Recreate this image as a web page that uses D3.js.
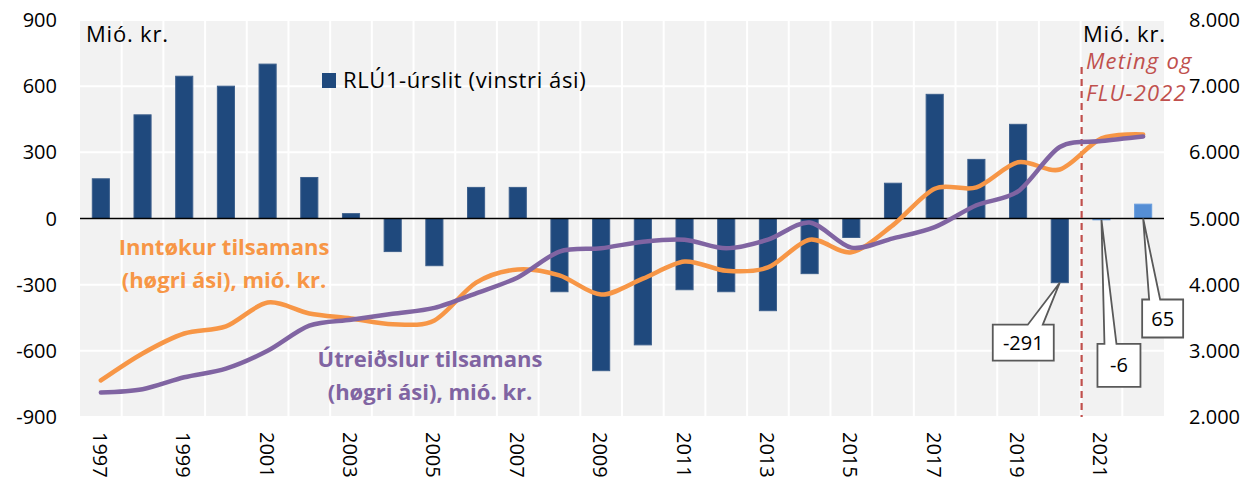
<!DOCTYPE html>
<html>
<head>
<meta charset="utf-8">
<script src="https://cdn.jsdelivr.net/npm/d3@7"></script>
<style>
  body { margin:0; background:#fff; }
  svg text { font-family: "Open Sans", Lato, sans-serif; }
</style>
</head>
<body>
<div id="chart"></div>
<script>
var years = [1997,1998,1999,2000,2001,2002,2003,2004,2005,2006,2007,2008,2009,
             2010,2011,2012,2013,2014,2015,2016,2017,2018,2019,2020,2021,2022];
var forecastYears = [2021,2022];

// RLÚ1-úrslit, left axis
var resultValues = [180,470,645,600,700,186,22,-150,-214,141,141,-332,-690,
                    -573,-323,-332,-418,-250,-86,160,563,268,427,-291,-6,65];
// Inntøkur tilsamans, right axis
var incomeValues = [2552,2960,3262,3370,3730,3565,3490,3400,3460,4030,4230,4140,3850,
                    4090,4350,4210,4260,4680,4490,4900,5450,5470,5850,5740,6210,6270];
// Útreiðslur tilsamans, right axis
var expenseValues = [2370,2420,2600,2730,3000,3380,3470,3560,3650,3870,4110,4500,4550,
                     4650,4680,4550,4680,4940,4560,4700,4870,5200,5410,6080,6170,6240];

var leftTicks = [-900,-600,-300,0,300,600,900];
var rightTicks = [2000,3000,4000,5000,6000,7000,8000];
var labelYears = [1997,1999,2001,2003,2005,2007,2009,2011,2013,2015,2017,2019,2021];
var calloutYears = [2020,2021,2022];

var W = 1254, H = 481;
var m = {top:20, right:90, bottom:64, left:80};

var svg = d3.select("#chart").append("svg")
    .attr("width", W).attr("height", H);

var x = d3.scaleBand().domain(years).range([m.left, W - m.right]).padding(0);
var yL = d3.scaleLinear().domain([-900, 900]).range([H - m.bottom, m.top]);
var yR = d3.scaleLinear().domain([2000, 8000]).range([H - m.bottom, m.top]);
var bw = x.bandwidth();

var isl = d3.formatLocale({decimal:",", thousands:".", grouping:[3], currency:["",""]});
var fmtR = isl.format(",");

// plot background + grid
svg.append("rect")
    .attr("x", m.left).attr("y", m.top)
    .attr("width", W - m.left - m.right).attr("height", H - m.top - m.bottom)
    .style("fill", "#f2f2f2");

var grid = svg.append("g");
grid.selectAll("line.h").data(leftTicks).enter().append("line")
    .attr("x1", m.left).attr("x2", W - m.right)
    .attr("y1", function(d){return yL(d);}).attr("y2", function(d){return yL(d);})
    .style("stroke", "#fff").style("stroke-width", 2);
grid.selectAll("line.v").data(years.slice(1)).enter().append("line")
    .attr("x1", function(d){return x(d);}).attr("x2", function(d){return x(d);})
    .attr("y1", m.top).attr("y2", H - m.bottom)
    .style("stroke", "#fff").style("stroke-width", 2);

// bars
svg.append("g").selectAll("rect").data(years).enter().append("rect")
    .attr("x", function(d){return x(d) + bw*0.295;})
    .attr("width", bw*0.41)
    .attr("y", function(d,i){return yL(Math.max(0, resultValues[i]));})
    .attr("height", function(d,i){return Math.abs(yL(resultValues[i]) - yL(0));})
    .style("fill", function(d){return forecastYears.indexOf(d) >= 0 ? "#558ed5" : "#1f497d";})
    .style("stroke", function(d){return forecastYears.indexOf(d) >= 0 ? "#6a9ede" : "#3c5f8c";})
    .style("stroke-width", 1);

// zero line
svg.append("line")
    .attr("x1", m.left).attr("x2", W - m.right)
    .attr("y1", yL(0)).attr("y2", yL(0))
    .style("stroke", "#000").style("stroke-width", 1.6);

// forecast divider
svg.append("line")
    .attr("x1", x(2021) + 1).attr("x2", x(2021) + 1)
    .attr("y1", 67).attr("y2", H - m.bottom)
    .style("stroke", "#c0504d").style("stroke-width", 2.2)
    .style("stroke-dasharray", "7,5");

// lines
var line = function(vals){
    return d3.line()
        .x(function(d){return x(d) + bw/2;})
        .y(function(d,i){return yR(vals[i]);})
        .curve(d3.curveCardinal.tension(0.1))(years);
};
svg.append("path").attr("d", line(incomeValues))
    .style("fill", "none").style("stroke", "#f79646").style("stroke-width", 4.5)
    .style("stroke-linecap", "round");
svg.append("path").attr("d", line(expenseValues))
    .style("fill", "none").style("stroke", "#8064a2").style("stroke-width", 4.5)
    .style("stroke-linecap", "round");

// axes labels
var axes = svg.append("g").style("font-size", "20px").style("fill", "#000");
axes.selectAll("text.l").data(leftTicks).enter().append("text")
    .attr("x", 57).attr("y", function(d){return yL(d);})
    .attr("dy", "0.35em").style("text-anchor", "end")
    .text(function(d){return d;});
axes.selectAll("text.r").data(rightTicks).enter().append("text")
    .attr("x", 1189).attr("y", function(d){return yR(d);})
    .attr("dy", "0.35em").style("text-anchor", "start")
    .text(function(d){return fmtR(d);});
axes.selectAll("text.x").data(labelYears).enter().append("text")
    .attr("transform", function(d){return "translate(" + (x(d) + bw/2 - 1) + "," + 432 + ") rotate(90)";})
    .attr("dy", "0.35em").style("text-anchor", "start")
    .text(function(d){return d;});

var unit = svg.append("g").style("font-size", "22px").style("letter-spacing", "0.8px");
unit.append("text").attr("x", 86).attr("y", 42).text("Mió. kr.");
unit.append("text").attr("x", 1083).attr("y", 42).text("Mió. kr.");

var meting = svg.append("g").style("font-size", "22px").style("font-style", "italic")
    .style("letter-spacing", "1.2px").style("fill", "#c0504d");
meting.append("text").attr("x", 1086).attr("y", 69).text("Meting og");
meting.append("text").attr("x", 1086).attr("y", 101).text("FLU-2022");

// legend
svg.append("rect").attr("x", 322).attr("y", 73).attr("width", 14).attr("height", 15)
    .style("fill", "#1f497d");
svg.append("text").attr("x", 343).attr("y", 88).style("font-size", "22px")
    .style("letter-spacing", "0.6px")
    .text("RLÚ1-úrslit (vinstri ási)");

// series annotations
var ann = function(lines, cx, y0, color){
    var g = svg.append("g").style("font-size", "22px").style("font-weight", "bold")
        .style("fill", color).style("text-anchor", "middle");
    lines.forEach(function(t, i){
        g.append("text").attr("x", cx).attr("y", y0 + i*33).text(t);
    });
};
ann(["Inntøkur tilsamans", "(høgri ási), mió. kr."], 224, 255, "#f79646");
ann(["Útreiðslur tilsamans", "(høgri ási), mió. kr."], 430, 367, "#8064a2");

// callouts: box offsets relative to the bar tip
var calloutBox = {
    2020: {dx:-67, dy:42, w:61, h:36, a:35, b:50},
    2021: {dx:-4, dy:124, w:43, h:43, a:7, b:19},
    2022: {dx:-1, dy:81, w:41, h:38, a:7, b:18}
};
var callouts = svg.append("g");
calloutYears.forEach(function(yr){
    var i = years.indexOf(yr), v = resultValues[i], c = calloutBox[yr];
    var tx = x(yr) + bw/2, ty = yL(Math.min(0, v));
    var l = tx + c.dx, t = ty + c.dy;
    var p = "M" + l + "," + t + "L" + (l + c.a) + "," + t + "L" + tx + "," + ty +
            "L" + (l + c.b) + "," + t + "L" + (l + c.w) + "," + t +
            "L" + (l + c.w) + "," + (t + c.h) + "L" + l + "," + (t + c.h) + "Z";
    callouts.append("path").attr("d", p)
        .style("fill", "#fff").style("stroke", "#595959").style("stroke-width", 1.8);
    callouts.append("text")
        .attr("x", l + c.w/2).attr("y", t + c.h/2).attr("dy", "0.35em")
        .style("text-anchor", "middle").style("font-size", "20px")
        .text(v);
});
</script>
</body>
</html>
